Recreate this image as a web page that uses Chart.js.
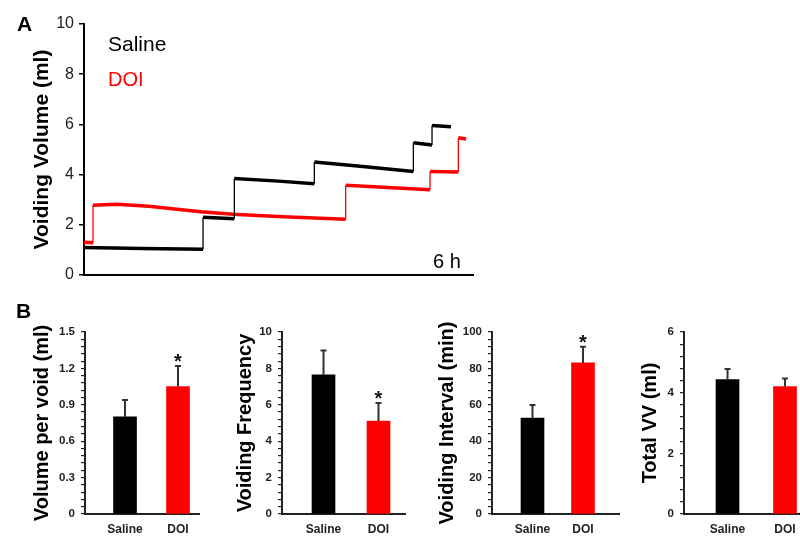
<!DOCTYPE html>
<html>
<head>
<meta charset="utf-8">
<script src="https://cdn.jsdelivr.net/npm/chart.js@4.4.1/dist/chart.umd.min.js"></script>
<style>
html,body{margin:0;padding:0;background:#fff;}
#wrap{position:relative;width:800px;height:538px;overflow:hidden;font-family:'Liberation Sans',Arial,Helvetica,sans-serif;}
#wrap canvas{position:absolute;}
.lbl{position:absolute;white-space:nowrap;line-height:1;}
</style>
</head>
<body>
<div id="wrap">
  <canvas id="cA" width="480" height="290" style="left:0;top:0"></canvas>
  <canvas id="cB1" width="210" height="238" style="left:0;top:300px"></canvas>
  <canvas id="cB2" width="195" height="238" style="left:215px;top:300px"></canvas>
  <canvas id="cB3" width="205" height="238" style="left:420px;top:300px"></canvas>
  <canvas id="cB4" width="181" height="238" style="left:625px;top:300px"></canvas>
  <div class="lbl" style="left:17px;top:13px;font-size:21px;font-weight:bold;">A</div>
  <div class="lbl" style="left:16px;top:300px;font-size:21px;font-weight:bold;">B</div>
  <div class="lbl" style="left:108px;top:33px;font-size:21px;color:#000;">Saline</div>
  <div class="lbl" style="left:108px;top:69px;font-size:20px;color:#ff0000;">DOI</div>
  <div class="lbl" style="left:433px;top:251px;font-size:20px;color:#000;">6 h</div>
</div>
<script>
// ---------- Panel A data (time in h, voiding volume in ml) ----------
const salineTime   = [0, 0.9, 1.836, 1.836, 2.319, 2.319, 3.0, 3.553, 3.553, 4.3, 5.08, 5.08, 5.368, 5.368, 5.661];
const salineVolume = [1.10, 1.06, 1.03, 2.30, 2.24, 3.84, 3.74, 3.64, 4.50, 4.32, 4.12, 5.27, 5.18, 5.96, 5.91];
const doiTime      = [0, 0.139, 0.139, 0.5, 1.0, 1.8, 2.3, 3.07, 4.036, 4.036, 5.337, 5.337, 5.774, 5.774, 5.892];
const doiVolume    = [1.30, 1.28, 2.78, 2.82, 2.74, 2.52, 2.42, 2.32, 2.22, 3.58, 3.40, 4.12, 4.10, 5.47, 5.42];
const volumeTicks  = [0, 2, 4, 6, 8, 10];

// ---------- Panel B data ----------
const categories        = ['Saline', 'DOI'];
const barColors         = ['#000000', '#ff0000'];
const volumePerVoid     = [0.80, 1.05];
const volumePerVoidErr  = [0.14, 0.17];
const volumePerVoidSig  = [false, true];
const volumePerVoidTicks= [0, 0.3, 0.6, 0.9, 1.2, 1.5];
const frequency         = [7.64, 5.11];
const frequencyErr      = [1.35, 0.99];
const frequencySig      = [false, true];
const frequencyTicks    = [0, 2, 4, 6, 8, 10];
const interval          = [52.7, 83.0];
const intervalErr       = [7.2, 8.9];
const intervalSig       = [false, true];
const intervalTicks     = [0, 20, 40, 60, 80, 100];
const totalVV           = [4.43, 4.20];
const totalVVErr        = [0.35, 0.27];
const totalVVSig        = [false, false];
const totalVVTicks      = [0, 2, 4, 6];

const FONT = "'Liberation Sans', Arial, Helvetica, sans-serif";

// ---------- Panel A ----------
new Chart(document.getElementById('cA'), {
  type: 'line',
  data: {
    datasets: [
      {
        label: 'Saline',
        data: salineTime.map((t, i) => ({x: t, y: salineVolume[i]})),
        borderColor: '#000000',
        borderWidth: 3.5,
        pointRadius: 0,
        tension: 0,
        segment: { borderWidth: c => (c.p0.parsed.x === c.p1.parsed.x ? 1.3 : 3.5) }
      },
      {
        label: 'DOI',
        data: doiTime.map((t, i) => ({x: t, y: doiVolume[i]})),
        borderColor: '#ff0000',
        borderWidth: 3.5,
        pointRadius: 0,
        tension: 0,
        segment: { borderWidth: c => (c.p0.parsed.x === c.p1.parsed.x ? 1.3 : 3.5) }
      }
    ]
  },
  options: {
    responsive: false,
    animation: false,
    layout: { padding: { top: 24, right: 7, left: 0, bottom: 0 } },
    plugins: { legend: { display: false }, tooltip: { enabled: false } },
    scales: {
      x: {
        type: 'linear', min: 0, max: 6,
        grid: { display: false },
        ticks: { display: false },
        border: { display: true, color: '#000', width: 2 },
        afterFit: s => { s.height = 15; }
      },
      y: {
        min: 0, max: 10,
        afterBuildTicks: s => { s.ticks = volumeTicks.map(v => ({value: v})); },
        ticks: { font: { family: FONT, size: 16 }, color: '#222', padding: 5, autoSkip: false },
        grid: { drawOnChartArea: false, drawTicks: true, tickLength: 5, color: '#000', lineWidth: 1.5 },
        border: { display: true, color: '#000', width: 2 },
        title: { display: true, text: 'Voiding Volume (ml)', color: '#000',
                 font: { family: FONT, size: 21, weight: 'bold' }, padding: { top: 30, bottom: 0 } },
        afterFit: s => { s.width = 84; }
      }
    }
  }
});

// ---------- Panel B helper ----------
const errorBarPlugin = {
  id: 'errBars',
  afterDatasetsDraw(chart, args, opts) {
    const ctx = chart.ctx, xs = chart.scales.x, ys = chart.scales.y;
    opts.means.forEach((m, i) => {
      const x = xs.getPixelForValue(i + 1);
      const yb = ys.getPixelForValue(m);
      const yt = ys.getPixelForValue(m + opts.errs[i]);
      ctx.save();
      ctx.strokeStyle = '#333';
      ctx.lineWidth = 2;
      ctx.beginPath();
      ctx.moveTo(x, yb);
      ctx.lineTo(x, yt);
      ctx.moveTo(x - 3, yt);
      ctx.lineTo(x + 3, yt);
      ctx.stroke();
      if (opts.sig[i]) {
        ctx.fillStyle = '#111';
        ctx.font = 'bold 20px ' + FONT;
        ctx.textAlign = 'center';
        ctx.textBaseline = 'alphabetic';
        ctx.fillText('*', x, yt - 9 + 11.5);
      }
      ctx.restore();
    });
  }
};

function barChart(id, cfg) {
  const majors = cfg.ticks;
  const top = majors[majors.length - 1];
  const minorStep = (majors[1] - majors[0]) / 5;
  const n = Math.round(top / minorStep);
  const allTicks = [];
  for (let i = 0; i <= n; i++) allTicks.push(Math.round(i * minorStep * 1e6) / 1e6);
  new Chart(document.getElementById(id), {
    type: 'bar',
    data: {
      datasets: [{
        data: cfg.means.map((m, i) => ({x: i + 1, y: m})),
        backgroundColor: barColors,
        borderWidth: 0,
        barThickness: 23
      }]
    },
    options: {
      responsive: false,
      animation: false,
      layout: { padding: { top: 32, right: cfg.padRight, left: 0, bottom: 0 } },
      plugins: {
        legend: { display: false }, tooltip: { enabled: false },
        errBars: { means: cfg.means, errs: cfg.errs, sig: cfg.sig }
      },
      scales: {
        x: {
          type: 'linear', min: cfg.xmin, max: cfg.xmax, offset: false, bounds: 'data',
          afterBuildTicks: s => { s.ticks = categories.map((c, i) => ({value: i + 1})); },
          ticks: { autoSkip: false, font: { family: FONT, size: 12, weight: 'bold' }, color: '#222',
                   padding: 8, maxRotation: 0, callback: v => categories[Math.round(v) - 1] },
          grid: { display: false, drawTicks: false, offset: false },
          border: { display: true, color: '#222', width: 2 },
          afterFit: s => { s.height = 24; }
        },
        y: {
          min: 0, max: top,
          afterBuildTicks: s => { s.ticks = allTicks.map(v => ({value: v})); },
          ticks: {
            autoSkip: false, font: { family: FONT, size: 11.5, weight: 'bold' }, color: '#222', padding: 6,
            callback: v => (majors.some(m => Math.abs(m - v) < 1e-6) ? String(Math.round(v * 10) / 10) : '')
          },
          grid: { drawOnChartArea: false, drawTicks: true, tickLength: 4, color: '#222', lineWidth: 1.2 },
          border: { display: true, color: '#222', width: 2 },
          title: { display: true, text: cfg.title, color: '#000',
                   font: { family: FONT, size: 20, weight: 'bold' }, padding: { top: cfg.titlePad, bottom: 0 } },
          afterFit: s => { s.width = cfg.yWidth; }
        }
      }
    },
    plugins: [errorBarPlugin]
  });
}

barChart('cB1', { means: volumePerVoid, errs: volumePerVoidErr, sig: volumePerVoidSig, ticks: volumePerVoidTicks,
  title: 'Volume per void (ml)', yWidth: 85, titlePad: 30, padRight: 11, xmin: 0.245, xmax: 2.396 });
barChart('cB2', { means: frequency, errs: frequencyErr, sig: frequencySig, ticks: frequencyTicks,
  title: 'Voiding Frequency', yWidth: 67, titlePad: 18, padRight: 5, xmin: 0.245, xmax: 2.482 });
barChart('cB3', { means: interval, errs: intervalErr, sig: intervalSig, ticks: intervalTicks,
  title: 'Voiding Interval (min)', yWidth: 72, titlePad: 15, padRight: 6, xmin: 0.198, xmax: 2.713 });
barChart('cB4', { means: totalVV, errs: totalVVErr, sig: totalVVSig, ticks: totalVVTicks,
  title: 'Total VV (ml)', yWidth: 59, titlePad: 13, padRight: 6, xmin: 0.243, xmax: 2.261 });
</script>
</body>
</html>
